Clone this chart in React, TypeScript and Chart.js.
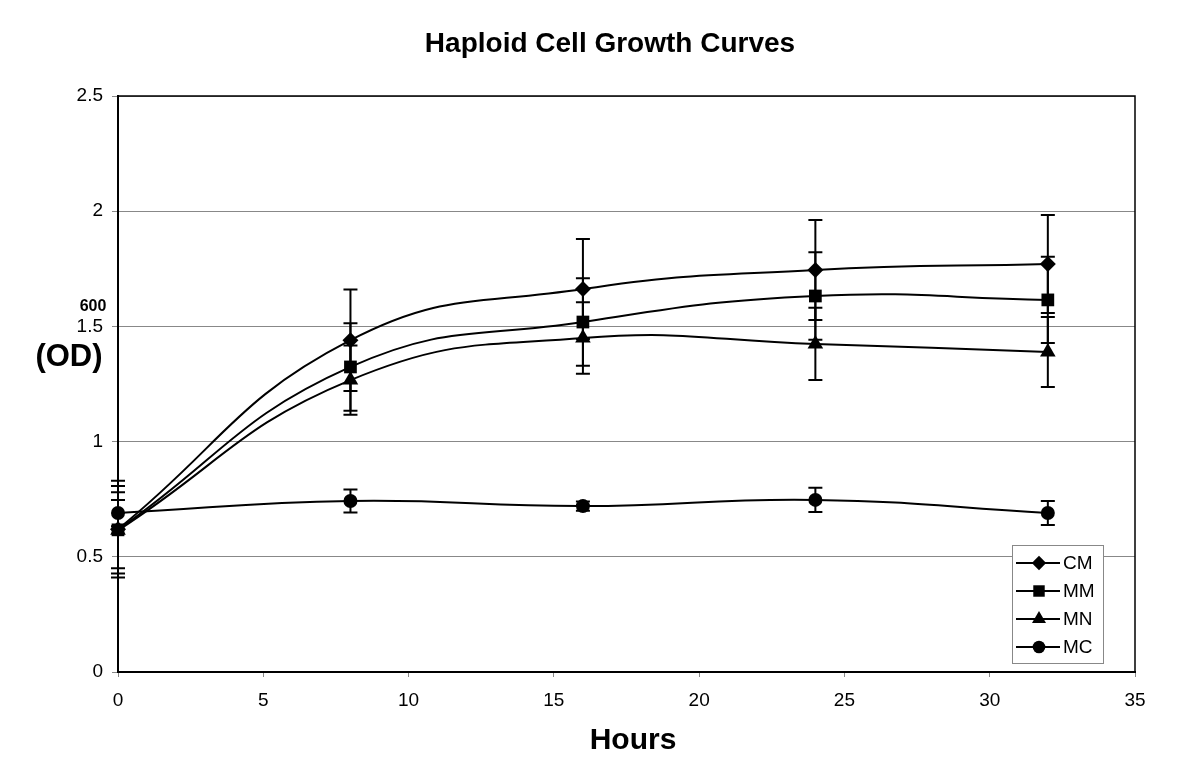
import React, { useEffect, useRef } from "react";
import { Chart, registerables } from "chart.js";

Chart.register(...registerables);

const hours = [0, 8, 16, 24, 32];
const seriesNames = ["CM", "MM", "MN", "MC"];
const cm = [0.62, 1.44, 1.662, 1.745, 1.771];
const cmErr = [0.21, 0.22, 0.217, 0.217, 0.213];
const mm = [0.617, 1.324, 1.519, 1.632, 1.615];
const mmErr = [0.19, 0.19, 0.19, 0.19, 0.187];
const mn = [0.615, 1.267, 1.45, 1.424, 1.389];
const mnErr = [0.165, 0.15, 0.155, 0.157, 0.152];
const mc = [0.69, 0.742, 0.72, 0.747, 0.69];
const mcErr = [0.057, 0.05, 0.02, 0.053, 0.052];
const pointStyles = ["rectRot", "rect", "triangle", "circle"];
const pointRadii = [8, 9, 9, 7];

const titleText = "Haploid Cell Growth Curves";
const xTitle = "Hours";
const yTitle = "(OD)";
const ySub = "600";

const FONT = "'Liberation Sans', Arial, sans-serif";

const errorBarPlugin = {
  id: "errorBars",
  afterDatasetsDraw(chart: any) {
    const ctx = chart.ctx;
    const xs = chart.scales.x;
    const ys = chart.scales.y;
    ctx.save();
    ctx.strokeStyle = "#000";
    ctx.lineWidth = 2;
    chart.data.datasets.forEach((ds: any) => {
      const errs: number[] = ds.errors || [];
      ds.data.forEach((pt: any, i: number) => {
        const e = errs[i];
        if (!e) return;
        const px = xs.getPixelForValue(pt.x);
        const top = ys.getPixelForValue(pt.y + e);
        const bot = ys.getPixelForValue(pt.y - e);
        ctx.beginPath();
        ctx.moveTo(px, top);
        ctx.lineTo(px, bot);
        ctx.moveTo(px - 7, top);
        ctx.lineTo(px + 7, top);
        ctx.moveTo(px - 7, bot);
        ctx.lineTo(px + 7, bot);
        ctx.stroke();
      });
    });
    ctx.restore();
  },
};

function drawMarker(ctx: CanvasRenderingContext2D, style: string, x: number, y: number, r: number) {
  ctx.beginPath();
  if (style === "circle") {
    ctx.arc(x, y, r, 0, Math.PI * 2);
  } else if (style === "rect") {
    const s = r * Math.SQRT1_2;
    ctx.rect(x - s, y - s, 2 * s, 2 * s);
  } else if (style === "rectRot") {
    ctx.moveTo(x, y - r);
    ctx.lineTo(x + r, y);
    ctx.lineTo(x, y + r);
    ctx.lineTo(x - r, y);
    ctx.closePath();
  } else if (style === "triangle") {
    ctx.moveTo(x, y - r);
    ctx.lineTo(x + r * Math.sin(Math.PI / 3), y + r / 2);
    ctx.lineTo(x - r * Math.sin(Math.PI / 3), y + r / 2);
    ctx.closePath();
  }
  ctx.fill();
}

const decorPlugin = {
  id: "decor",
  afterDraw(chart: any) {
    const ctx = chart.ctx;
    const a = chart.chartArea;
    ctx.save();
    ctx.strokeStyle = "#000";
    ctx.lineWidth = 1.5;
    ctx.beginPath();
    ctx.moveTo(a.left, a.top);
    ctx.lineTo(a.right, a.top);
    ctx.lineTo(a.right, a.bottom);
    ctx.stroke();

    ctx.fillStyle = "#000";
    ctx.textAlign = "center";
    ctx.textBaseline = "middle";
    ctx.font = `bold 28px ${FONT}`;
    ctx.fillText(titleText, 610, 44);
    ctx.font = `bold 30px ${FONT}`;
    ctx.fillText(xTitle, 633, 741);
    ctx.font = `bold 31px ${FONT}`;
    ctx.fillText(yTitle, 69, 357);
    ctx.font = `bold 16px ${FONT}`;
    ctx.fillText(ySub, 93, 307);

    const lx = 1012, ly = 545, lw = 91, lh = 118;
    ctx.fillStyle = "#fff";
    ctx.fillRect(lx, ly, lw, lh);
    ctx.strokeStyle = "#888";
    ctx.lineWidth = 1;
    ctx.strokeRect(lx + 0.5, ly + 0.5, lw, lh);
    chart.data.datasets.forEach((ds: any, i: number) => {
      const cy = 563 + i * 28;
      ctx.strokeStyle = "#000";
      ctx.lineWidth = 2;
      ctx.beginPath();
      ctx.moveTo(1016, cy);
      ctx.lineTo(1060, cy);
      ctx.stroke();
      ctx.fillStyle = "#000";
      drawMarker(ctx, ds.pointStyle, 1039, cy, ds.pointRadius * 0.9);
      ctx.textAlign = "left";
      ctx.textBaseline = "middle";
      ctx.font = `19px ${FONT}`;
      ctx.fillText(ds.label, 1063, cy + 1);
    });
    ctx.restore();
  },
};

export default function App() {
  const ref = useRef<HTMLCanvasElement | null>(null);
  useEffect(() => {
    document.body.style.margin = "0";
    const values = [cm, mm, mn, mc];
    const errs = [cmErr, mmErr, mnErr, mcErr];
    const chart = new Chart(ref.current as HTMLCanvasElement, {
      type: "line",
      data: {
        datasets: seriesNames.map((name, i) => ({
          label: name,
          data: hours.map((h, j) => ({ x: h, y: values[i][j] })),
          errors: errs[i],
          borderColor: "#000",
          backgroundColor: "#000",
          borderWidth: 2,
          pointStyle: pointStyles[i],
          pointRadius: pointRadii[i],
          pointBorderWidth: 0,
          pointBackgroundColor: "#000",
          tension: 0.45,
          fill: false,
          clip: false,
        })) as any,
      },
      options: {
        responsive: false,
        animation: false,
        layout: { padding: { left: 0, right: 65, top: 96, bottom: 0 } },
        plugins: {
          legend: { display: false },
          title: { display: false },
          tooltip: { enabled: false },
        },
        scales: {
          x: {
            type: "linear",
            min: 0,
            max: 35,
            afterFit: (s: any) => {
              s.height = 112;
            },
            ticks: {
              stepSize: 5,
              color: "#000",
              font: { family: FONT, size: 19 },
              padding: 12,
            },
            grid: { drawOnChartArea: false, drawTicks: true, tickLength: 5, color: "#888" },
            border: { color: "#000", width: 2 },
          },
          y: {
            min: 0,
            max: 2.5,
            afterFit: (s: any) => {
              s.width = 118;
            },
            ticks: {
              stepSize: 0.5,
              color: "#000",
              font: { family: FONT, size: 19 },
              padding: 9,
              callback: (v: any) => String(Number(v)),
            },
            grid: { color: "#888", tickLength: 6, lineWidth: 1 },
            border: { color: "#000", width: 2 },
          },
        },
      },
      plugins: [errorBarPlugin, decorPlugin],
    });
    return () => chart.destroy();
  }, []);
  return (
    <div style={{ width: 1200, height: 784, background: "#fff" }}>
      <canvas ref={ref} width={1200} height={784} style={{ display: "block" }} />
    </div>
  );
}
